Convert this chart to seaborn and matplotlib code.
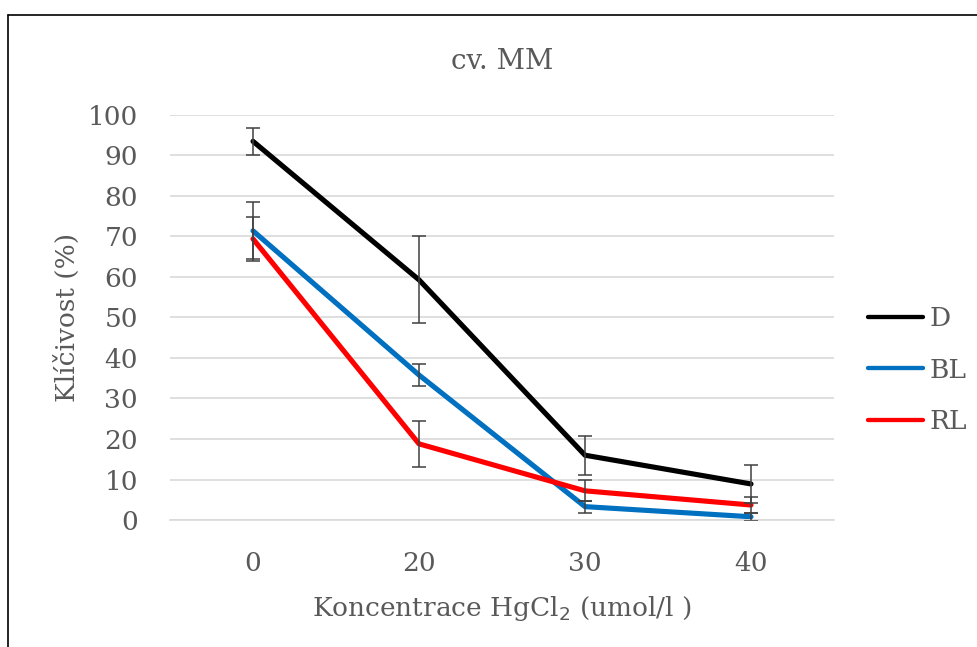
import pandas as pd
import matplotlib
matplotlib.use("Agg")
import matplotlib.pyplot as plt
from matplotlib.lines import Line2D
import seaborn as sns

# values
concentrations = ["0", "20", "30", "40"]
series_names = ["D", "BL", "RL"]
d_values = [93.5, 59.3, 16.0, 8.9]
d_errors = [3.3, 10.7, 4.8, 4.7]
bl_values = [71.4, 35.8, 3.3, 0.8]
bl_errors = [7.0, 2.8, 1.5, 1.0]
rl_values = [69.4, 18.8, 7.2, 3.7]
rl_errors = [5.4, 5.6, 2.6, 2.0]
y_ticks = [0, 10, 20, 30, 40, 50, 60, 70, 80, 90, 100]

colors = {"D": "#000000", "BL": "#0070C0", "RL": "#FF0000"}
text_gray = "#595959"
fs = 19

rows = []
for name, vals, errs in [("D", d_values, d_errors), ("BL", bl_values, bl_errors), ("RL", rl_values, rl_errors)]:
    for c, v, e in zip(concentrations, vals, errs):
        rows.append({"conc": c, "value": v, "err": e, "series": name})
df = pd.DataFrame(rows)

sns.set_style("white")
plt.rcParams["font.family"] = ["DejaVu Serif"]

fig = plt.figure(figsize=(9.77, 6.47), dpi=100)
ax = fig.add_axes([170 / 977, 127 / 647, 664 / 977, 405 / 647])

sns.lineplot(data=df, x="conc", y="value", hue="series", palette=colors,
             linewidth=3.7, ax=ax, legend=False, sort=False)
for line in ax.lines:
    line.set_solid_capstyle("round")
    line.set_solid_joinstyle("round")

pos = {c: i for i, c in enumerate(concentrations)}
for name in series_names:
    sub = df[df["series"] == name]
    ax.errorbar(sub["conc"].map(pos), sub["value"], yerr=sub["err"], fmt="none",
                ecolor="#404040", elinewidth=1.1, capsize=5, capthick=1.1, zorder=3)

ax.set_xlim(-0.5, 3.5)
ax.set_ylim(0, 100)
ax.set_yticks(y_ticks)
ax.grid(axis="y", color="#d9d9d9", linewidth=1.2)
ax.set_axisbelow(True)
for side in ["top", "right", "left"]:
    ax.spines[side].set_visible(False)
ax.spines["bottom"].set_color("#d9d9d9")
ax.spines["bottom"].set_linewidth(1.2)
ax.tick_params(axis="y", length=0, labelsize=fs, labelcolor=text_gray, pad=23)
ax.tick_params(axis="x", length=0, labelsize=fs, labelcolor=text_gray, pad=22)

ax.set_title("cv. MM", fontsize=fs + 1, color=text_gray, pad=33)
ax.set_xlabel("Koncentrace HgCl$_2$ (umol/l )", fontsize=fs, color=text_gray, labelpad=13)
ax.set_ylabel("Klíčivost (%)", fontsize=fs, color=text_gray, labelpad=6)

handles = [Line2D([0], [0], color=colors[n], linewidth=3.1, solid_capstyle="round") for n in series_names]
fig.legend(handles, series_names, loc="center left", bbox_to_anchor=(868 / 977, 1 - 370 / 647),
           frameon=False, fontsize=fs, labelcolor=text_gray, handlelength=2.08,
           labelspacing=1.0, handletextpad=0.25, borderpad=0, borderaxespad=0)

# chart border like the original frame
fig.add_artist(Line2D([8 / 977, 8 / 977], [0, 1 - 15 / 647], color="black", linewidth=1.2))
fig.add_artist(Line2D([8 / 977, 1], [1 - 15 / 647, 1 - 15 / 647], color="black", linewidth=1.2))

fig.savefig("out.png", dpi=100)
